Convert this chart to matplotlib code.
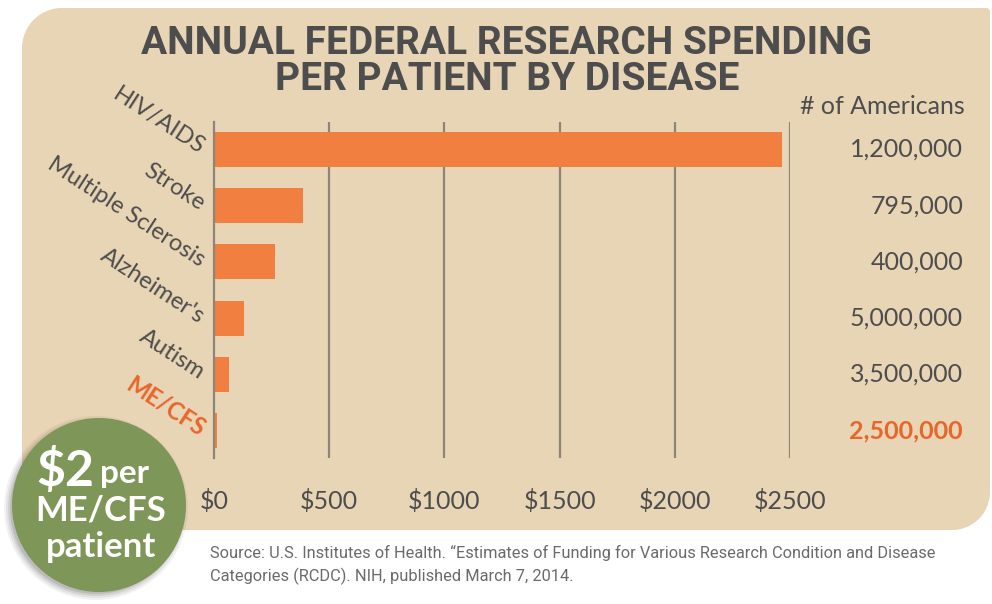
import numpy as np
import matplotlib
matplotlib.use("Agg")
import matplotlib.pyplot as plt
from matplotlib.patches import Circle, PathPatch
from matplotlib.path import Path
from matplotlib.transforms import blended_transform_factory

# ---- data ----
diseases = ["HIV/AIDS", "Stroke", "Multiple Sclerosis", "Alzheimer's", "Autism", "ME/CFS"]
spending = [2465, 386, 265, 130, 65, 15]
americans = ["1,200,000", "795,000", "400,000", "5,000,000", "3,500,000", "2,500,000"]
xticks = [0, 500, 1000, 1500, 2000, 2500]
xtick_labels = ["$0", "$500", "$1000", "$1500", "$2000", "$2500"]
title_lines = ["ANNUAL FEDERAL RESEARCH SPENDING", "PER PATIENT BY DISEASE"]
source_lines = ["Source: U.S. Institutes of Health. \u201cEstimates of Funding for Various Research Condition and Disease",
                "Categories (RCDC). NIH, published March 7, 2014."]

PANEL = "#e8d5b5"
ORANGE = "#f07f40"
HILITE = "#e9662a"
DARK = "#4d4d4d"
GREEN = "#7e9658"
GRID = "#8d857a"

W, H = 992, 604
fig = plt.figure(figsize=(W / 100, H / 100), dpi=100)
fig.patch.set_facecolor("white")

# ---- background decoration axes (pixel coords) ----
bg = fig.add_axes([0, 0, 1, 1], zorder=0)
bg.set_xlim(0, W)
bg.set_ylim(H, 0)
bg.axis("off")

def corner(cx, cy, r, a0, a1, n=20):
    t = np.radians(np.linspace(a0, a1, n))
    return list(zip(cx + r * np.cos(t), cy - r * np.sin(t)))

x0, x1, y0, y1 = 22, 990, 8, 530
rtl, rtr, rbr, rbl = 40, 4, 38, 10
pts = []
pts += corner(x0 + rtl, y0 + rtl, rtl, 180, 90)
pts += corner(x1 - rtr, y0 + rtr, rtr, 90, 0)
pts += corner(x1 - rbr, y1 - rbr, rbr, 0, -90)
pts += corner(x0 + rbl, y1 - rbl, rbl, -90, -180)
pts.append(pts[0])
codes = [Path.MOVETO] + [Path.LINETO] * (len(pts) - 2) + [Path.CLOSEPOLY]
bg.add_patch(PathPatch(Path(pts, codes), facecolor=PANEL, edgecolor="none"))

# title
for i, line in enumerate(title_lines):
    bg.text(507, 43 + i * 36, line, ha="center", va="center", fontsize=28,
            fontweight="bold", color=DARK, family=["Roboto", "DejaVu Sans"])

# column header
bg.text(965, 106, "# of Americans", ha="right", va="center", fontsize=18,
        color=DARK, family=["Lato", "DejaVu Sans"])

# source
for i, line in enumerate(source_lines):
    bg.text(210, 553 + i * 23, line, ha="left", va="center", fontsize=11.8,
            color="#6a6a6a", family=["Roboto", "DejaVu Sans"])

# ---- main bar axes ----
left, right = 214 / W, 790 / W
top, bottom = 1 - 122 / H, 1 - 458 / H
ax = fig.add_axes([left, bottom, right - left, top - bottom], zorder=2)
ax.set_facecolor("none")
ypos = np.arange(len(diseases))
ax.set_xlim(0, 2500)
ax.set_ylim(5.49, -0.49)
ax.barh(ypos, spending, height=0.62, color=ORANGE, zorder=2)
for xv in xticks[1:]:
    ax.axvline(xv, color=GRID, lw=1.6, zorder=1)
for s in ["top", "right", "bottom"]:
    ax.spines[s].set_visible(False)
ax.spines["left"].set_color(GRID)
ax.spines["left"].set_linewidth(1.6)
ax.set_xticks(xticks)
ax.set_xticklabels(xtick_labels, fontsize=18, color=DARK, family=["Lato", "DejaVu Sans"])
ax.tick_params(axis="x", length=0, pad=22)
ax.set_yticks(ypos)
ax.set_yticklabels(diseases, fontsize=17, family=["Lato", "DejaVu Sans"])
ax.tick_params(axis="y", length=0, pad=8)
for i, lab in enumerate(ax.get_yticklabels()):
    lab.set_rotation(-33)
    lab.set_rotation_mode("anchor")
    lab.set_ha("right")
    lab.set_va("center")
    if diseases[i] == "ME/CFS":
        lab.set_color(HILITE)
        lab.set_fontweight("bold")
    else:
        lab.set_color(DARK)

# right-hand counts
tr = blended_transform_factory(fig.transFigure, ax.transData)
for i, txt in enumerate(americans):
    hl = diseases[i] == "ME/CFS"
    ax.text(963 / W, ypos[i], txt, transform=tr, ha="right", va="center",
            fontsize=18, color=HILITE if hl else DARK,
            fontweight="bold" if hl else "normal", family=["Lato", "DejaVu Sans"],
            clip_on=False)

# ---- green badge ----
ov = fig.add_axes([0, 0, 1, 1], zorder=5)
ov.set_xlim(0, W)
ov.set_ylim(H, 0)
ov.axis("off")
for k, a in enumerate([0.05, 0.06, 0.08, 0.10]):
    ov.add_patch(Circle((96, 508), 92 - k * 2, facecolor="black", alpha=a, edgecolor="none"))
ov.add_patch(Circle((99, 505), 87, facecolor=GREEN, edgecolor="none"))
ov.text(94, 470, "$2", ha="right", va="center", fontsize=36, fontweight="bold",
        color="white", family=["Lato", "DejaVu Sans"])
ov.text(100, 474, "per", ha="left", va="center", fontsize=24, fontweight="bold",
        color="white", family=["Lato", "DejaVu Sans"])
ov.text(101, 511, "ME/CFS", ha="center", va="center", fontsize=25, fontweight="bold",
        color="white", family=["Lato", "DejaVu Sans"])
ov.text(101, 547, "patient", ha="center", va="center", fontsize=25, fontweight="bold",
        color="white", family=["Lato", "DejaVu Sans"])

fig.savefig("out.png", dpi=100, facecolor="white")
